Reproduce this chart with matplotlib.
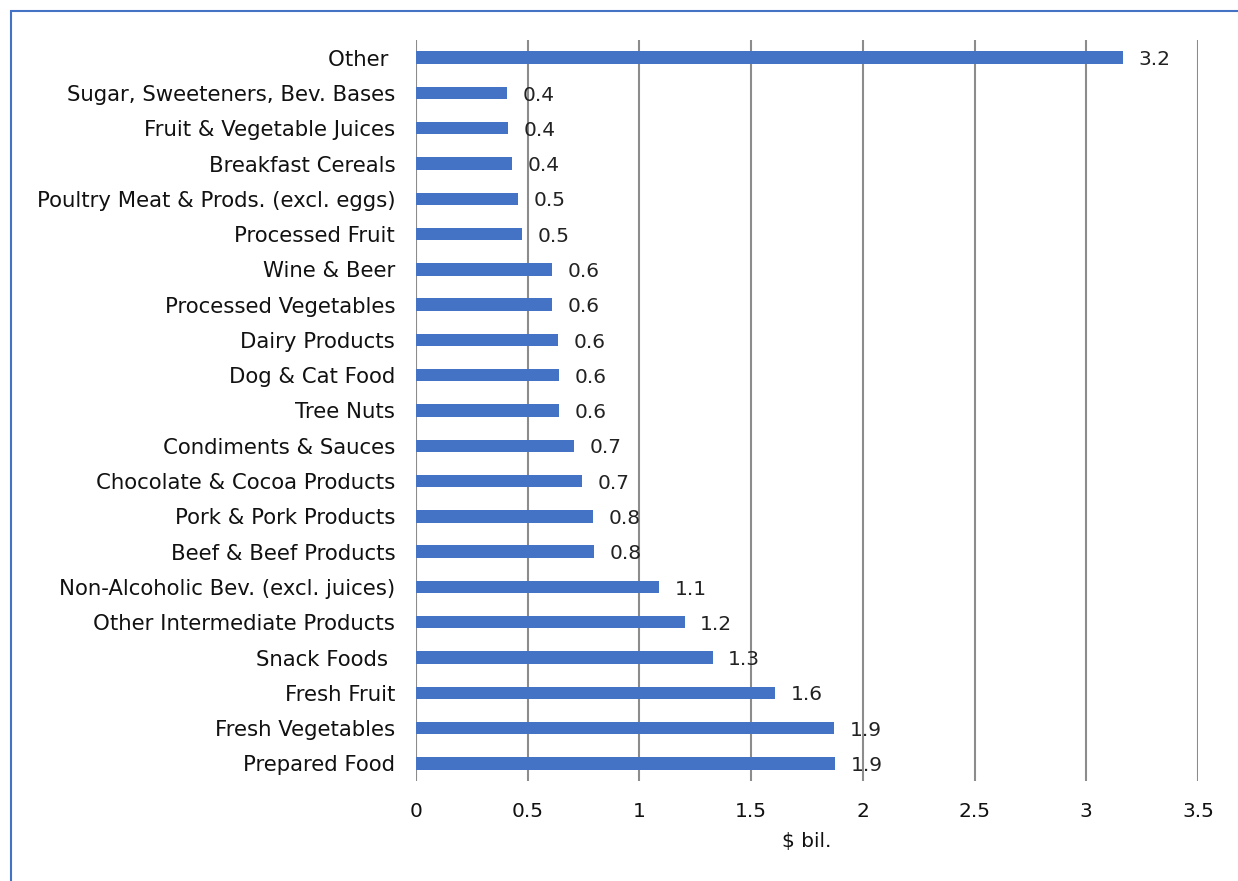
import matplotlib.pyplot as plt
from matplotlib.patches import Rectangle

# categories from bottom to top
categories = [
    'Prepared Food', 'Fresh Vegetables', 'Fresh Fruit', 'Snack Foods ',
    'Other Intermediate Products', 'Non-Alcoholic Bev. (excl. juices)',
    'Beef & Beef Products', 'Pork & Pork Products', 'Chocolate & Cocoa Products',
    'Condiments & Sauces', 'Tree Nuts', 'Dog & Cat Food', 'Dairy Products',
    'Processed Vegetables', 'Wine & Beer', 'Processed Fruit',
    'Poultry Meat & Prods. (excl. eggs)', 'Breakfast Cereals',
    'Fruit & Vegetable Juices', 'Sugar, Sweeteners, Bev. Bases', 'Other ',
]
values = [1.876, 1.871, 1.607, 1.329, 1.204, 1.088, 0.797, 0.792, 0.743,
          0.707, 0.64, 0.64, 0.636, 0.609, 0.609, 0.474, 0.457, 0.43,
          0.412, 0.407, 3.165]
xticks = [0, 0.5, 1, 1.5, 2, 2.5, 3, 3.5]
xticklabels = ['0', '0.5', '1', '1.5', '2', '2.5', '3', '3.5']

W, H = 1238, 881
fig = plt.figure(figsize=(W / 100, H / 100), dpi=100)
ax = fig.add_axes([416 / W, 1 - 781 / H, (1198 - 416) / W, (781 - 40) / H])

pos = list(range(len(categories)))
ax.barh(pos, values, height=0.35, color='#4472C4', zorder=3)
for y, v in zip(pos, values):
    ax.annotate(f'{v:.1f}', (v, y), xytext=(11, -1.5), textcoords='offset points',
                ha='left', va='center', fontsize=14.5, color='#222222', zorder=4)

ax.set_xlim(0, 3.5)
ax.set_ylim(-0.5, len(categories) - 0.5)
ax.set_yticks(pos)
ax.set_yticklabels(categories, fontsize=15.3, color='#111111')
ax.set_xticks(xticks)
ax.set_xticklabels(xticklabels, fontsize=14.5, color='#111111')
ax.tick_params(axis='both', length=0)
ax.tick_params(axis='y', pad=15)
ax.tick_params(axis='x', pad=15)
ax.set_xlabel('$ bil.', fontsize=14.5, color='#111111', labelpad=8)

ax.grid(axis='x', color='#8c8c8c', linewidth=1.5, zorder=0)
ax.axvline(0, color='#d9d9d9', linewidth=1.5, zorder=1)
for s in ax.spines.values():
    s.set_visible(False)

# outer chart border (top and left visible)
fig.patches.append(Rectangle((11 / W, -0.1), 1.2, 1.1 - 11 / H,
                             transform=fig.transFigure, fill=False,
                             edgecolor='#4472C4', linewidth=1.5))

fig.savefig('out.png', dpi=100)
